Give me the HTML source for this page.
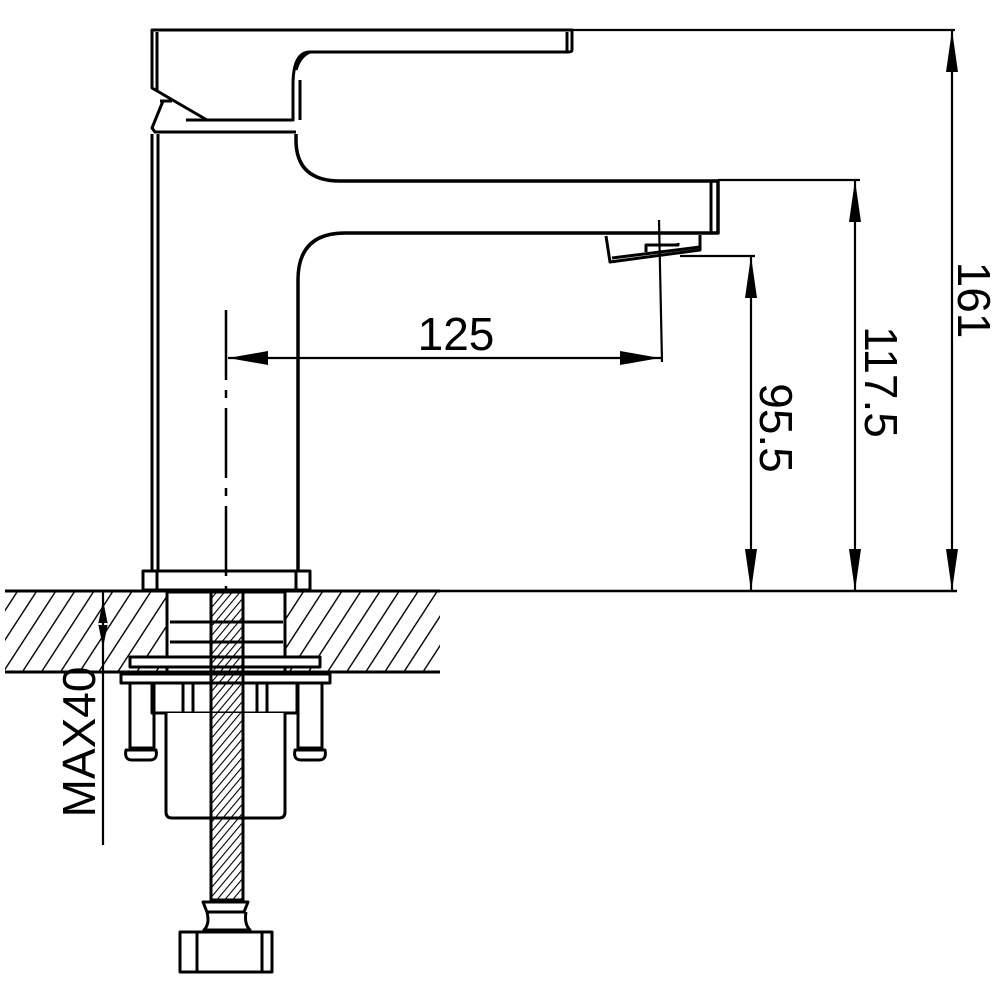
<!DOCTYPE html>
<html><head><meta charset="utf-8"><style>html,body{margin:0;padding:0;background:#fff}svg{display:block}</style></head>
<body>
<svg width="1000" height="1000" viewBox="0 0 1000 1000" xmlns="http://www.w3.org/2000/svg">
<defs>
<pattern id="h" patternUnits="userSpaceOnUse" width="16" height="16" patternTransform="rotate(33)">
<line x1="0" y1="0" x2="0" y2="16" stroke="#000" stroke-width="2.8"/>
</pattern>
<pattern id="t" patternUnits="userSpaceOnUse" width="6" height="6" patternTransform="rotate(40)">
<line x1="0" y1="0" x2="0" y2="6" stroke="#000" stroke-width="2.2"/>
</pattern>
</defs>
<g fill="none" stroke="#000" stroke-width="3" stroke-linejoin="round">
<!-- handle -->
<path d="M152 30 H572 V50 Q572 52 568 52 H310 Q293 52 293 85 V120 H207 L152 88 Z"/>
<line x1="157" y1="32" x2="157" y2="90"/>
<line x1="567" y1="32" x2="567" y2="52"/>
<line x1="300" y1="80" x2="300" y2="120"/>
<path d="M310 52 Q300 56 296 70"/>
<path d="M186 120 H207"/>
<path d="M163 101 L152 128 L155 132 H296"/>
<line x1="160" y1="101" x2="172" y2="101"/>
<!-- body -->
<path d="M152 134 V570"/>
<line x1="158" y1="134" x2="158" y2="570"/>
<path d="M296 134 V140 Q296 181 340 181 H718 V233 H345 Q298 233 298 280 V570" stroke-width="3.5"/>
<line x1="711" y1="181" x2="711" y2="233"/>
<path d="M606 236 L610 262 L700 250 L700 235"/>
<path d="M612 258 L700 247"/>
<path d="M646 252 V245 H678 V243"/>
<!-- base -->
<rect x="143" y="571" width="167" height="19"/>
<line x1="157" y1="571" x2="157" y2="590"/>
<line x1="296" y1="571" x2="296" y2="590"/>
<!-- extension/dimension lines -->
<line x1="572" y1="30" x2="955" y2="30" stroke-width="2.2"/>
<line x1="718" y1="180" x2="860" y2="180" stroke-width="2.2"/>
<line x1="680" y1="256" x2="755" y2="256" stroke-width="2.2"/>
<line x1="400" y1="591" x2="957" y2="591" stroke-width="2.5"/>
<line x1="952" y1="30" x2="952" y2="591" stroke-width="2.2"/>
<line x1="855" y1="180" x2="855" y2="591" stroke-width="2.2"/>
<line x1="751" y1="256" x2="751" y2="591" stroke-width="2.2"/>
<line x1="659" y1="220" x2="662" y2="362" stroke-width="2.2"/>
<line x1="228" y1="358" x2="662" y2="358" stroke-width="2.2"/>
<line x1="226" y1="310" x2="226" y2="590" stroke-width="2.5" stroke-dasharray="70 10 8 10"/>
<!-- counter -->
<rect x="5" y="592" width="435" height="80" fill="url(#h)" stroke="none"/>
<line x1="5" y1="591" x2="440" y2="591"/>
<line x1="5" y1="672" x2="440" y2="672"/>
<!-- mount -->
<rect x="167" y="592" width="118" height="80" fill="#fff"/>
<line x1="170" y1="622" x2="283" y2="622"/>
<line x1="170" y1="642" x2="283" y2="642"/>
<rect x="130" y="657" width="190" height="10" fill="#fff"/>
<rect x="121" y="674" width="209" height="9" fill="#fff"/>
<rect x="152" y="683" width="145" height="30" fill="#fff"/>
<line x1="183" y1="683" x2="183" y2="713"/><line x1="193" y1="683" x2="193" y2="713"/>
<line x1="257" y1="683" x2="257" y2="713"/><line x1="267" y1="683" x2="267" y2="713"/>
<path d="M166 713 V812 Q166 818 172 818 H279 Q285 818 285 812 V713" fill="#fff"/>
<rect x="130" y="683" width="24" height="65"/>
<rect x="298" y="683" width="24" height="65"/>
<path d="M126 750 Q124 760 132 760 H150 Q158 760 156 750 Z"/>
<path d="M295 750 Q293 760 301 760 H319 Q327 760 325 750 Z"/>
<rect x="211" y="592" width="32" height="308" fill="url(#t)"/>
<line x1="211" y1="592" x2="211" y2="900"/><line x1="243" y1="592" x2="243" y2="900"/>
<path d="M203 902 H248 L244 912 H207 Z M207 912 Q210 924 204 930 H250 Q244 924 246 912"/>
<rect x="180" y="932" width="92" height="40"/>
<line x1="197" y1="932" x2="197" y2="972"/><line x1="262" y1="932" x2="262" y2="972"/>
<line x1="103" y1="592" x2="103" y2="845" stroke-width="2.2"/>
</g>
<g fill="#000">
<path d="M952 30 l-6 42 h12 z M952 591 l-6 -42 h12 z"/>
<path d="M855 180 l-6 42 h12 z M855 591 l-6 -42 h12 z"/>
<path d="M751 256 l-6 42 h12 z M751 591 l-6 -42 h12 z"/>
<path d="M228 358 l40 -7 v14 z M660 358 l-40 -7 v14 z"/>
<path d="M103 600 l-5 25 h10 z M103 648 l-5 -25 h10 z"/>
</g>
<g font-family="Liberation Sans, sans-serif" font-size="46" fill="#000" text-anchor="middle">
<text x="456" y="350">125</text>
<text transform="translate(958,300) rotate(90)">161</text>
<text transform="translate(865,382) rotate(90)">117.5</text>
<text transform="translate(760,428) rotate(90)">95.5</text>
<text transform="translate(95,742) rotate(-90)">MAX40</text>
</g>
</svg>
</body></html>
